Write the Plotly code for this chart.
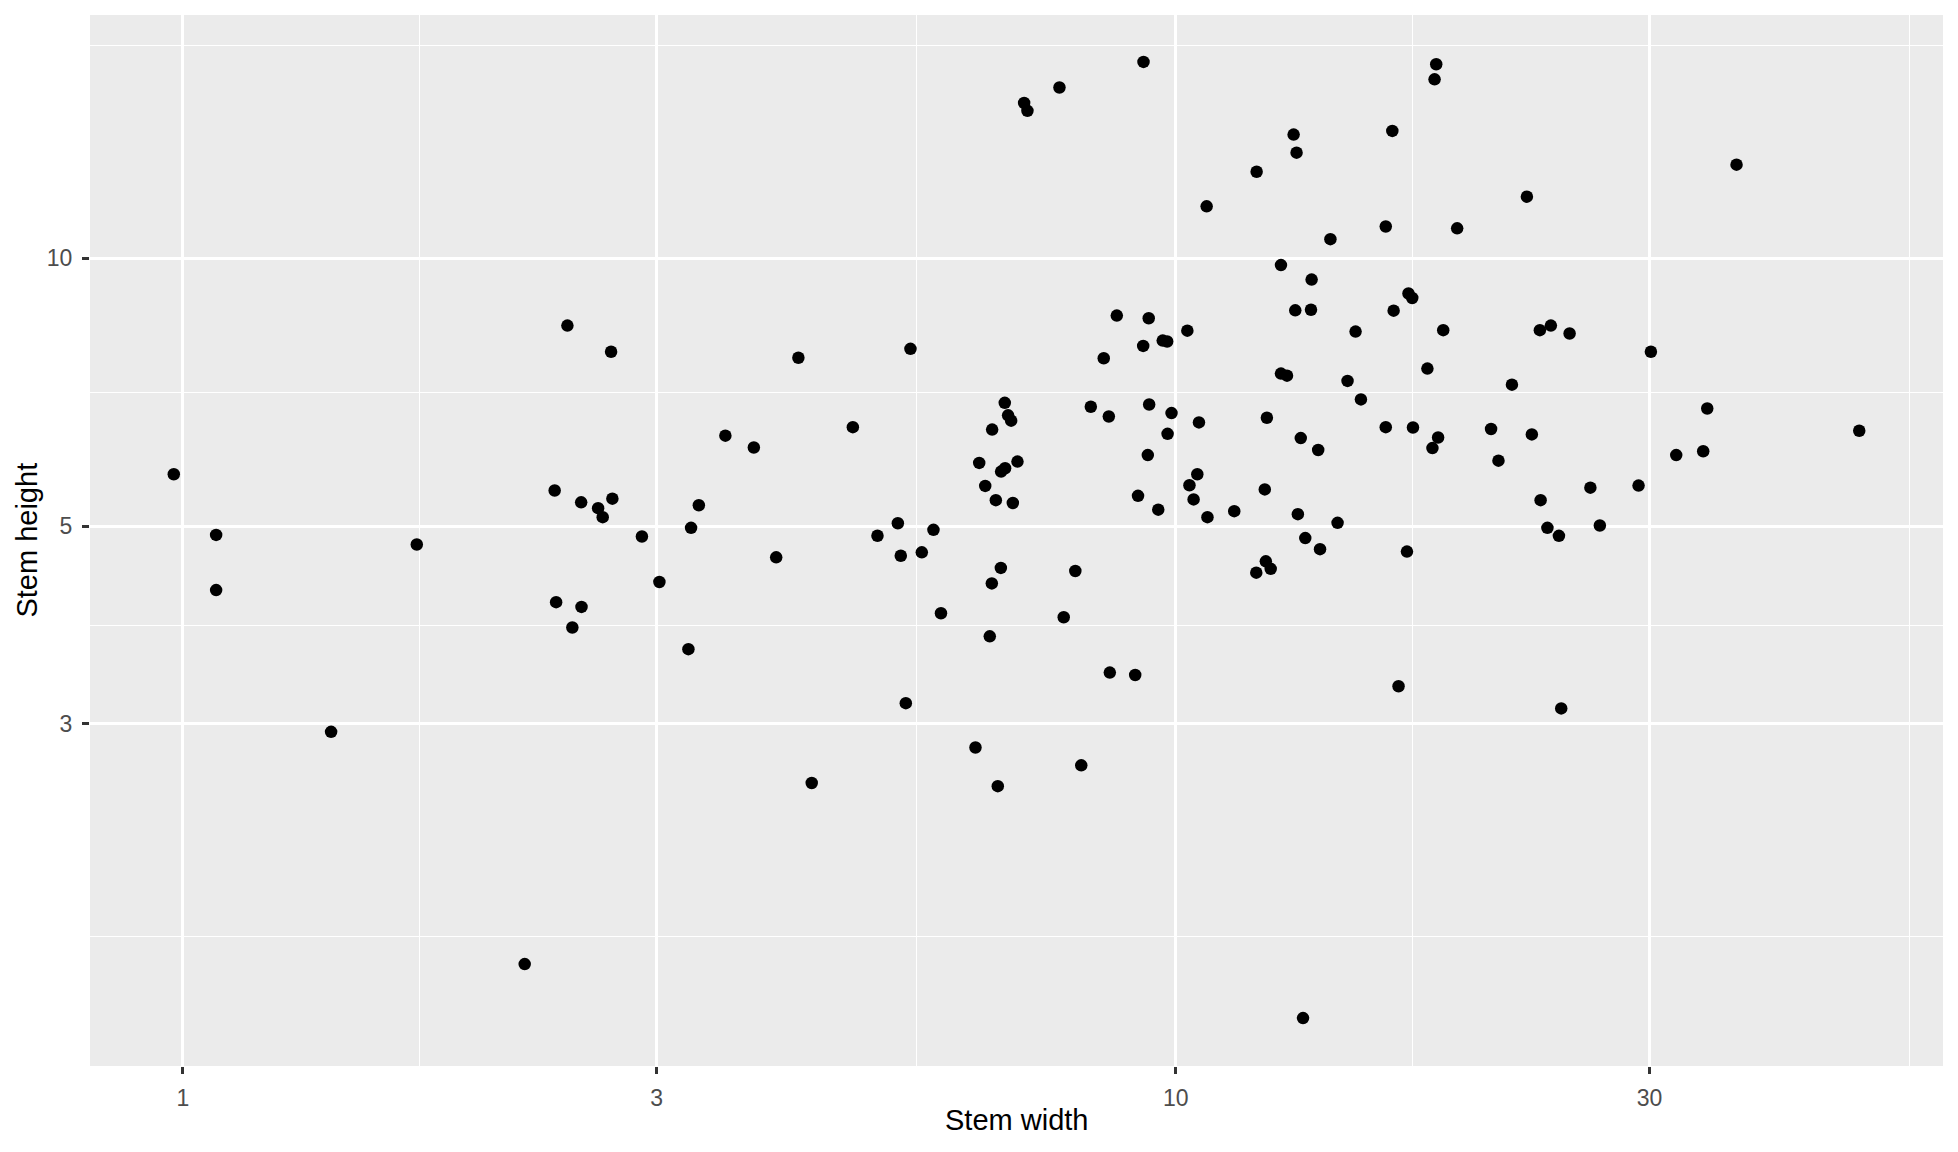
import plotly.graph_objects as go

stem_width = [
    0.979, 1.080, 1.080, 1.410, 1.720, 2.209, 2.368, 2.376, 2.439, 2.467,
    2.518, 2.520, 2.619, 2.647, 2.699, 2.707, 2.899, 3.019, 3.229, 3.249,
    3.308, 3.518, 3.758, 3.958, 4.167, 4.298, 4.728, 5.006, 5.248, 5.284,
    5.346, 5.404, 5.548, 5.70, 5.80, 6.283, 6.338, 6.427, 6.495, 6.526,
    6.531, 6.587, 6.617, 6.664, 6.668, 6.73, 6.725, 6.777, 6.825, 6.852,
    6.926, 7.034, 7.088, 7.634, 7.71, 7.92, 8.03, 8.21, 8.46, 8.56,
    8.58, 8.72, 9.10, 9.16, 9.277, 9.27, 9.37, 9.39, 9.40, 9.60,
    9.70, 9.80, 9.81, 9.90, 10.27, 10.32, 10.42, 10.51, 10.55, 10.74,
    10.76, 11.45, 12.06, 12.05, 12.29, 12.32, 12.46, 12.35, 12.76, 12.76,
    12.94, 13.14, 13.19, 13.23, 13.27, 13.36, 13.43, 13.50, 13.70, 13.68,
    13.91, 13.97, 14.31, 14.55, 14.89, 15.17, 15.36, 16.27, 16.27, 16.52,
    16.57, 16.76, 17.09, 17.15, 17.30, 17.33, 17.92, 18.13, 18.22, 18.29,
    18.37, 18.59, 19.20, 20.77, 21.13, 21.80, 22.57, 22.83, 23.26, 23.30,
    23.67, 23.86, 24.31, 24.44, 24.92, 26.15, 26.73, 29.24, 30.09, 31.91,
    33.97, 34.29, 36.7, 48.78,
]

stem_height = [
    5.72, 4.89, 4.24, 2.94, 4.77, 1.613, 5.485, 4.11, 8.40, 3.85,
    5.32, 4.06, 5.24, 5.12, 7.85, 5.37, 4.87, 4.33, 3.64, 4.98,
    5.28, 6.32, 6.13, 4.615, 7.73, 2.576, 6.46, 4.88, 5.04, 4.634,
    3.166, 7.91, 4.675, 4.955, 3.994, 2.823, 5.89, 5.55, 3.763, 4.314,
    6.42, 5.35, 2.555, 4.49, 5.76, 5.81, 6.88, 6.66, 6.57, 5.31,
    5.91, 14.93, 14.63, 15.54, 3.953, 4.455, 2.696, 6.81, 7.72, 6.64,
    3.426, 8.62, 3.405, 5.41, 16.6, 7.97, 6.01, 8.56, 6.85, 5.22,
    8.08, 8.06, 6.35, 6.70, 8.29, 5.56, 5.36, 5.72, 6.54, 11.43,
    5.12, 5.20, 12.50, 4.436, 5.50, 4.567, 4.48, 6.62, 9.82, 7.42,
    7.38, 13.76, 8.737, 13.13, 5.16, 6.28, 1.403, 4.85, 9.46, 8.75,
    6.09, 4.713, 10.50, 5.045, 7.28, 8.27, 6.94, 10.85, 6.46, 13.89,
    8.73, 3.307, 4.684, 9.125, 9.02, 6.455, 7.516, 6.12, 15.87, 16.50,
    6.29, 8.30, 10.80, 6.43, 5.925, 7.21, 11.72, 6.34, 8.30, 5.35,
    4.98, 8.40, 4.878, 3.123, 8.23, 5.525, 5.01, 5.555, 7.85, 6.01,
    6.07, 6.78, 12.73, 6.40,
]

x_breaks = [1, 3, 10, 30]
x_labels = ["1", "3", "10", "30"]
y_breaks = [3, 5, 10]
y_labels = ["3", "5", "10"]

# minor gridlines at geometric midpoints between major breaks (ggplot style)
x_major_full = [1, 3, 10, 30, 100]
y_major_full = [1, 3, 5, 10, 30]
x_minor = [(a * b) ** 0.5 for a, b in zip(x_major_full[:-1], x_major_full[1:])]
y_minor = [(a * b) ** 0.5 for a, b in zip(y_major_full[:-1], y_major_full[1:])]

FONT = "Liberation Sans, Arial, Helvetica, sans-serif"

fig = go.Figure()
fig.add_trace(go.Scatter(
    x=stem_width, y=stem_height, mode="markers",
    marker=dict(color="black", size=12.5, line=dict(width=0)),
    hoverinfo="skip", showlegend=False,
))

axis_common = dict(
    type="log",
    showgrid=True, gridcolor="white", gridwidth=2.7,
    zeroline=False, showline=False,
    ticks="outside", ticklen=7, tickwidth=2.7, tickcolor="#333333",
    tickfont=dict(family=FONT, size=23, color="#4D4D4D"),
)

fig.update_xaxes(
    **axis_common,
    range=[-0.0936, 1.7726],
    tickmode="array", tickvals=x_breaks, ticktext=x_labels,
    minor=dict(tickmode="array", tickvals=x_minor, showgrid=True,
               gridcolor="white", gridwidth=1.4, ticks=""),
    ticklabelstandoff=4,
)
fig.update_yaxes(
    **axis_common,
    range=[0.0933, 1.2728],
    tickmode="array", tickvals=y_breaks, ticktext=y_labels,
    minor=dict(tickmode="array", tickvals=y_minor, showgrid=True,
               gridcolor="white", gridwidth=1.4, ticks=""),
    ticklabelstandoff=5,
)

fig.update_layout(
    width=1942, height=1136,
    margin=dict(l=82, r=7, t=7, b=78, pad=0),
    plot_bgcolor="#EBEBEB", paper_bgcolor="white",
    font=dict(family=FONT, color="black"),
    annotations=[
        dict(text="Stem width", xref="paper", yref="paper", x=0.5, y=-0.0512,
             xanchor="center", yanchor="middle", showarrow=False,
             font=dict(family=FONT, size=29, color="black")),
        dict(text="Stem height", xref="paper", yref="paper", x=-0.0345, y=0.5,
             xanchor="center", yanchor="middle", showarrow=False, textangle=-90,
             font=dict(family=FONT, size=29, color="black")),
    ],
)

fig.write_html("out.html")
